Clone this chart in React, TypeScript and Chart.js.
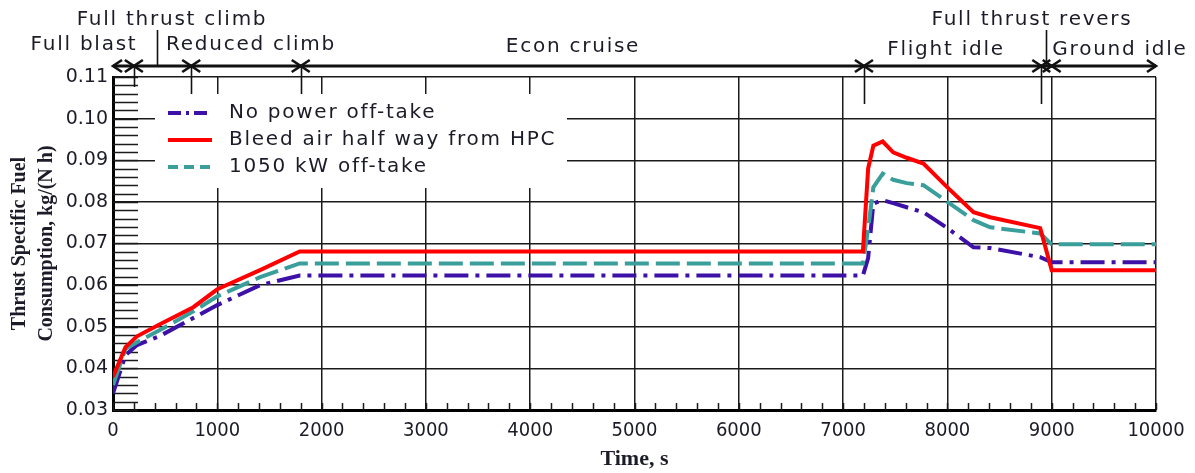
import React, { useEffect, useRef } from "react";
import { Chart, registerables } from "chart.js";

Chart.register(...registerables);

// ---------------- data ----------------
const timeS = [0, 120, 230, 450, 770, 1000, 1410, 1790, 7190, 7240, 7290, 7380, 7480, 7610, 7770, 8000, 8250, 8410, 8890, 9000, 10000];
const noPowerOffTake = [0.034, 0.0432, 0.0456, 0.0478, 0.0521, 0.0552, 0.06, 0.0623, 0.0623, 0.0665, 0.0796, 0.0804, 0.0797, 0.0787, 0.0775, 0.0737, 0.0691, 0.0689, 0.0667, 0.0655, 0.0655];
const bleedAirHPC = [0.038, 0.0451, 0.0477, 0.0506, 0.0547, 0.059, 0.0636, 0.0681, 0.0681, 0.088, 0.0935, 0.0945, 0.0919, 0.0906, 0.0892, 0.0835, 0.0775, 0.0763, 0.0737, 0.0636, 0.0636];
const offTake1050kW = [0.036, 0.0447, 0.0463, 0.0492, 0.0537, 0.0573, 0.0619, 0.0652, 0.0652, 0.0735, 0.0835, 0.0868, 0.0853, 0.0845, 0.084, 0.08, 0.0756, 0.0739, 0.0724, 0.0698, 0.0698];

const seriesLabels = ["No power off-take", "Bleed air half way from HPC", "1050 kW off-take"];

const yTickMin = 0.03;
const yTickMax = 0.11;
const yTickStep = 0.01;
const yMinorStep = 0.002;
const xTickMin = 0;
const xTickMax = 10000;
const xTickStep = 1000;
const xMinorStep = 200;

const phaseNames = ["Full blast", "Full thrust climb", "Reduced climb", "Econ cruise", "Flight idle", "Full thrust revers", "Ground idle"];
const phaseBounds = [0, 200, 750, 1800, 7200, 8900, 9000, 10000];
const phaseLeaderTimes = [420, 8950];

// ---------------- style / layout ----------------
const SANS = '"DejaVu Sans", Verdana, sans-serif';
const COND = '"DejaVu Sans Condensed", "Liberation Sans Narrow", "DejaVu Sans", sans-serif';
const SERIF = '"Liberation Serif", "Times New Roman", serif';
const INK = "#1c1c28";
const GRID = "#1a1a1a";

const BLUE = "#3d10a8";
const RED = "#ff0000";
const TEAL = "#3a9e9a";

const phaseLabelPos: [number, number][] = [
  [84, 45], [172, 20], [251, 45], [573, 47], [946, 50], [1032, 20], [1120, 50],
];
const phaseDropBottom = [87, 104, 104, 104, 104];
const BAR_Y = 66;

const legendBox = { x: 155, y: 94, w: 412, h: 94 };
const legendRows = [113, 140, 167];
const legendDash = [[13, 5, 3, 5], [], [10, 6]];
const legendColors = [BLUE, RED, TEAL];

function mkPoints(ys: number[]) {
  return timeS.map((t, i) => ({ x: t, y: ys[i] }));
}

const overlayPlugin = {
  id: "overlay",
  beforeDatasetsDraw(chart: any) {
    const { ctx, scales } = chart;
    const xs = scales.x;
    const ys = scales.y;
    const left = chart.chartArea.left;
    const bottom = chart.chartArea.bottom;
    ctx.save();
    ctx.strokeStyle = GRID;
    ctx.lineWidth = 1.5;
    // y minor ticks
    const nY = Math.round((yTickMax - yTickMin) / yMinorStep);
    for (let i = 0; i <= nY; i++) {
      const py = Math.round(ys.getPixelForValue(yTickMin + i * yMinorStep)) + 0.5;
      ctx.beginPath();
      ctx.moveTo(left, py);
      ctx.lineTo(left + 25, py);
      ctx.stroke();
    }
    // x minor ticks
    const nX = Math.round((xTickMax - xTickMin) / xMinorStep);
    for (let i = 0; i <= nX; i++) {
      const px = Math.round(xs.getPixelForValue(xTickMin + i * xMinorStep)) + 0.5;
      ctx.beginPath();
      ctx.moveTo(px, bottom);
      ctx.lineTo(px, bottom - 7);
      ctx.stroke();
    }
    ctx.restore();
  },
  afterDraw(chart: any) {
    const { ctx, scales } = chart;
    const xs = scales.x;
    ctx.save();
    ctx.strokeStyle = "#111";
    ctx.fillStyle = "#111";
    // phase bar
    const x0 = xs.getPixelForValue(phaseBounds[0]);
    const x1 = xs.getPixelForValue(phaseBounds[phaseBounds.length - 1]);
    ctx.lineWidth = 3;
    ctx.beginPath();
    ctx.moveTo(x0, BAR_Y);
    ctx.lineTo(x1, BAR_Y);
    ctx.stroke();
    // arrow heads
    ctx.lineWidth = 2.6;
    const head = (x: number, dir: number) => {
      ctx.beginPath();
      ctx.moveTo(x - dir * 9, BAR_Y - 6);
      ctx.lineTo(x, BAR_Y);
      ctx.lineTo(x - dir * 9, BAR_Y + 6);
      ctx.stroke();
    };
    for (let i = 0; i < phaseBounds.length - 1; i++) {
      head(xs.getPixelForValue(phaseBounds[i]), -1);
      head(xs.getPixelForValue(phaseBounds[i + 1]), 1);
    }
    // drop lines at inner boundaries
    ctx.lineWidth = 1.6;
    for (let i = 1; i < phaseBounds.length - 2; i++) {
      const px = Math.round(xs.getPixelForValue(phaseBounds[i])) + 0.5;
      ctx.beginPath();
      ctx.moveTo(px, BAR_Y);
      ctx.lineTo(px, phaseDropBottom[i - 1]);
      ctx.stroke();
    }
    // leader lines
    for (const t of phaseLeaderTimes) {
      const px = Math.round(xs.getPixelForValue(t)) + 0.5;
      ctx.beginPath();
      ctx.moveTo(px, 30);
      ctx.lineTo(px, BAR_Y);
      ctx.stroke();
    }
    // labels
    ctx.fillStyle = INK;
    ctx.font = `20px ${SANS}`;
    (ctx as any).letterSpacing = "1.75px";
    ctx.textAlign = "center";
    ctx.textBaseline = "middle";
    phaseNames.forEach((name, i) => {
      const [px, py] = phaseLabelPos[i];
      ctx.fillText(name, px, py);
    });

    // legend
    ctx.fillStyle = "#ffffff";
    ctx.fillRect(legendBox.x, legendBox.y, legendBox.w, legendBox.h);
    seriesLabels.forEach((lab, i) => {
      const y = legendRows[i];
      ctx.save();
      ctx.strokeStyle = legendColors[i];
      ctx.lineWidth = 4;
      ctx.setLineDash(legendDash[i]);
      ctx.beginPath();
      ctx.moveTo(168, y);
      ctx.lineTo(212, y);
      ctx.stroke();
      ctx.restore();
      ctx.fillStyle = INK;
      ctx.textAlign = "left";
      ctx.fillText(lab, 229, y);
    });
    (ctx as any).letterSpacing = "0px";
    ctx.restore();
  },
};

export default function App() {
  const ref = useRef<HTMLCanvasElement | null>(null);

  useEffect(() => {
    if (!ref.current) return;
    const chart = new Chart(ref.current, {
      type: "line",
      data: {
        datasets: [
          {
            label: seriesLabels[0],
            data: mkPoints(noPowerOffTake),
            borderColor: BLUE,
            borderWidth: 4,
            borderDash: [24, 7, 4, 7],
            pointRadius: 0,
            tension: 0,
            fill: false,
            order: 2,
          },
          {
            label: seriesLabels[1],
            data: mkPoints(bleedAirHPC),
            borderColor: RED,
            borderWidth: 4,
            pointRadius: 0,
            tension: 0,
            fill: false,
            order: 0,
          },
          {
            label: seriesLabels[2],
            data: mkPoints(offTake1050kW),
            borderColor: TEAL,
            borderWidth: 4,
            borderDash: [24, 7],
            pointRadius: 0,
            tension: 0,
            fill: false,
            order: 1,
          },
        ],
      },
      options: {
        responsive: false,
        animation: false,
        devicePixelRatio: 1,
        layout: { padding: { top: 77, right: 39, left: 0, bottom: 0 } },
        plugins: {
          legend: { display: false },
          tooltip: { enabled: false },
          title: { display: false },
        },
        scales: {
          x: {
            type: "linear",
            min: xTickMin,
            max: xTickMax,
            afterFit: (s: any) => {
              s.height = 63;
            },
            ticks: {
              stepSize: xTickStep,
              padding: 9,
              color: INK,
              font: { family: COND, size: 20 },
              maxRotation: 0,
              autoSkip: false,
              callback: (v: any) => String(Math.round(Number(v))),
            },
            grid: { color: GRID, lineWidth: 1.5, drawTicks: false },
            border: { color: "#000", width: 3 },
            title: {
              display: true,
              text: "Time, s",
              color: INK,
              font: { family: SERIF, size: 22, weight: "bold", lineHeight: 1.2 },
              padding: { top: 0, bottom: 0 },
            },
          },
          y: {
            type: "linear",
            min: yTickMin,
            max: yTickMax,
            afterFit: (s: any) => {
              s.width = 113;
            },
            ticks: {
              stepSize: yTickStep,
              padding: 5,
              color: INK,
              font: { family: SANS, size: 19 },
              callback: (v: any) => Number(v).toFixed(2),
            },
            grid: { color: GRID, lineWidth: 1.5, drawTicks: false },
            border: { color: "#000", width: 3 },
            title: {
              display: true,
              text: ["Thrust Specific Fuel", "Consumption, kg/(N h)"],
              color: INK,
              font: { family: SERIF, size: 20, weight: "bold", lineHeight: 1.35 },
              padding: { top: 6.5, bottom: 0 },
            },
          },
        },
      },
      plugins: [overlayPlugin],
    } as any);
    return () => chart.destroy();
  }, []);

  return (
    <div style={{ position: "fixed", left: 0, top: 0, width: 1195, height: 473, background: "#fff" }}>
      <canvas ref={ref} width={1195} height={473} />
    </div>
  );
}
